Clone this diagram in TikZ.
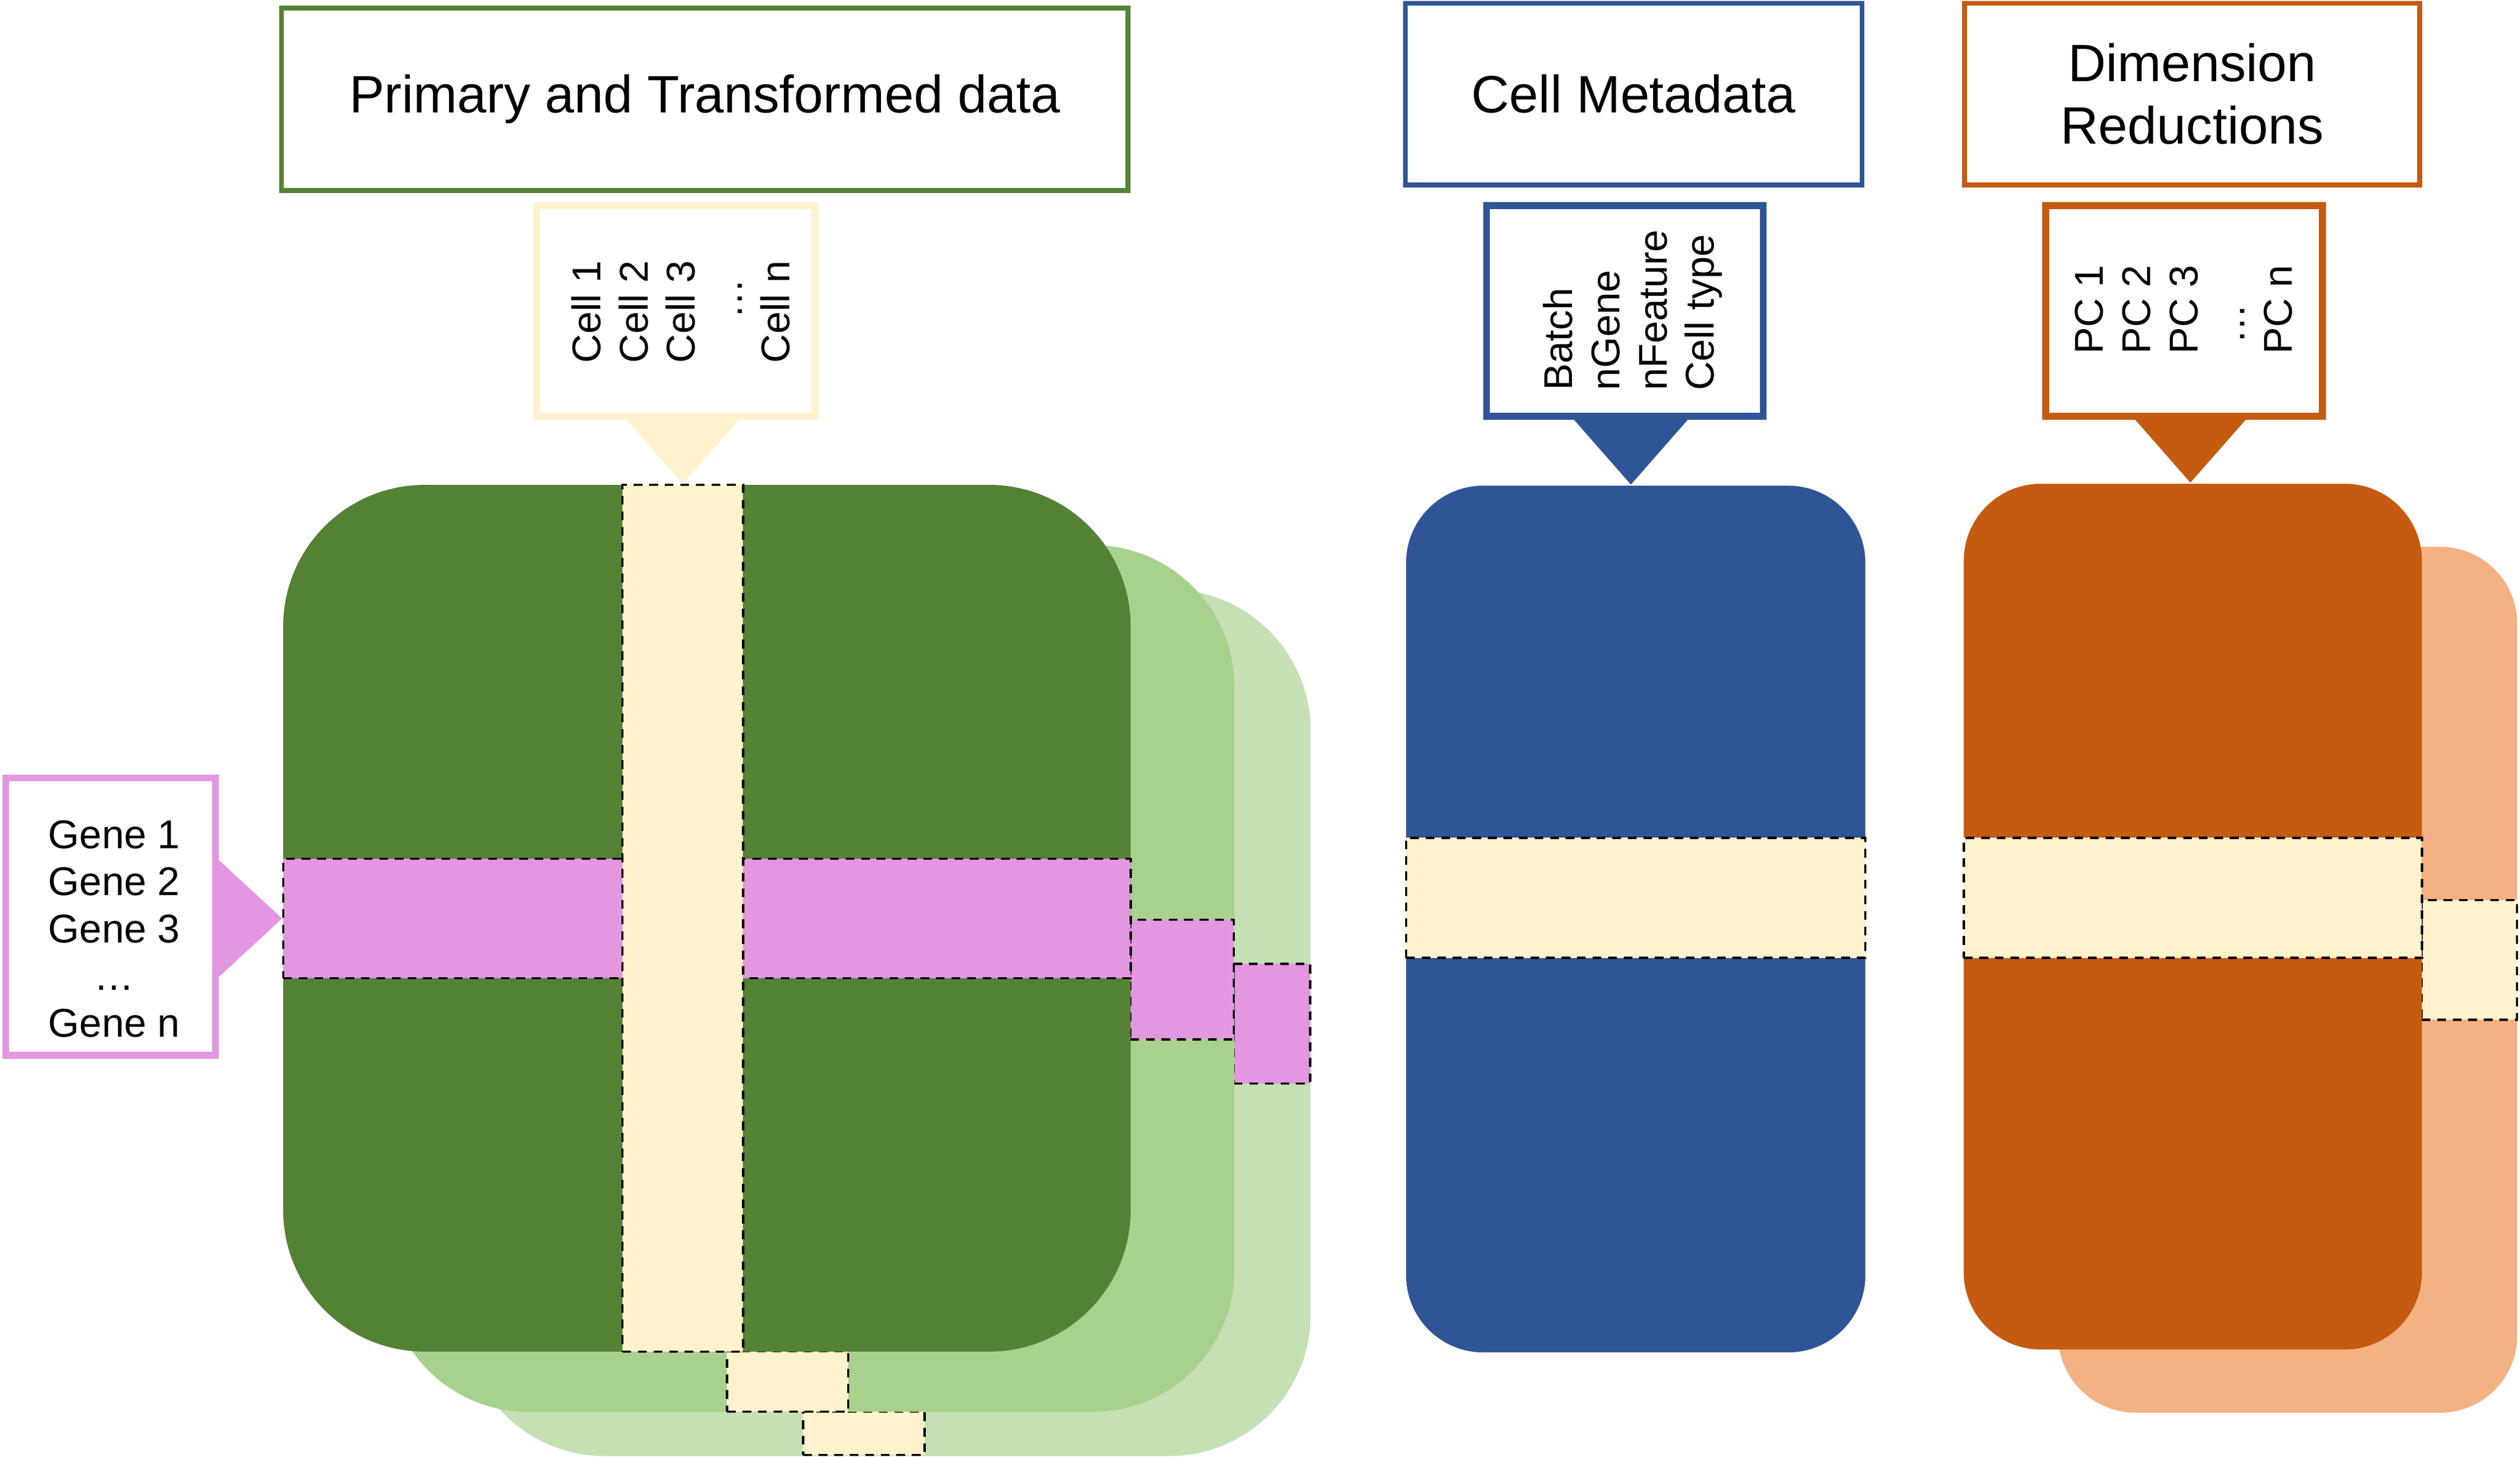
\documentclass[tikz,border=0pt]{standalone}
\usepackage{fontspec}
\setmainfont{Liberation Sans}
\usepackage{tikz}

\definecolor{dgreen}{HTML}{548235}
\definecolor{mgreen}{HTML}{A9D18E}
\definecolor{lgreen}{HTML}{C5E0B4}
\definecolor{cellyl}{HTML}{FFF2CC}
\definecolor{genepk}{HTML}{E397E1}
\definecolor{mblue}{HTML}{2F5597}
\definecolor{dorange}{HTML}{C55A11}
\definecolor{lorange}{HTML}{F4B183}

\begin{document}
\begin{tikzpicture}[x=0.01cm, y=-0.01cm]
    \tikzstyle{titlebox}=[rectangle, draw, line width=0.85pt, fill=white, minimum width=5.265cm, minimum height=1.135cm, align=center, font=\fontsize{9.3}{11.04}\selectfont, inner sep=0pt]
    \tikzstyle{callbox}=[rectangle, draw, line width=1.2pt, fill=white, inner sep=0pt]
    \tikzstyle{blob}=[rectangle, inner sep=0pt, anchor=north west]
    \tikzstyle{strip}=[rectangle, draw=black, line width=0.4pt, dash pattern=on 1.55pt off 1.2pt, fill=cellyl, inner sep=0pt, anchor=north west]
    \tikzstyle{vtext}=[font=\fontsize{7.1}{8.35}\selectfont, inner sep=0pt, align=left, rotate=90]

    \useasboundingbox (0,0) rectangle (1568,906.3);

    % green stack, back to front
    \node[blob, fill=lgreen, rounded corners=0.88cm, minimum width=5.27cm, minimum height=5.39cm] (gm3) at (287.5,366) {};
    \node[strip, fill=genepk, minimum width=0.475cm, minimum height=0.745cm] (gs3) at (767,599) {};
    \node[strip, minimum width=0.756cm, minimum height=0.27cm] (cs3) at (499,877.6) {};

    \node[blob, fill=mgreen, rounded corners=0.88cm, minimum width=5.27cm, minimum height=5.39cm] (gm2) at (240,338.5) {};
    \node[strip, fill=genepk, minimum width=0.644cm, minimum height=0.744cm] (gs2) at (702.6,571.6) {};
    \node[strip, minimum width=0.754cm, minimum height=0.376cm] (cs2) at (451.6,840) {};

    \node[blob, fill=dgreen, rounded corners=0.88cm, minimum width=5.27cm, minimum height=5.39cm] (gm) at (175.5,301) {};
    \node[strip, fill=genepk, minimum width=5.27cm, minimum height=0.744cm] (gstrip) at (175.5,533.6) {};
    \node[strip, minimum width=0.75cm, minimum height=5.39cm] (cstrip) at (386.6,301) {};

    % blue block
    \node[blob, fill=mblue, rounded corners=0.48cm, minimum width=2.856cm, minimum height=5.39cm] (bm) at (874.2,301.5) {};
    \node[strip, minimum width=2.856cm, minimum height=0.747cm] (bstrip) at (874.2,520.6) {};

    % orange stack
    \node[blob, fill=lorange, rounded corners=0.48cm, minimum width=2.854cm, minimum height=5.385cm] (om2) at (1280,339.5) {};
    \node[strip, minimum width=0.593cm, minimum height=0.744cm] (os2) at (1506.1,559.4) {};
    \node[blob, fill=dorange, rounded corners=0.48cm, minimum width=2.849cm, minimum height=5.384cm] (om) at (1221.2,300.3) {};
    \node[strip, minimum width=2.849cm, minimum height=0.747cm] (ostrip) at (1221.2,520.6) {};

    % titles
    \node[titlebox, draw=dgreen] (primary) at (438.5,61.75) {Primary and Transformed data};
    \node[titlebox, draw=mblue, minimum width=2.84cm, minimum height=1.13cm] (meta) at (1016.5,58.5) {Cell Metadata};
    \node[titlebox, draw=dorange, minimum width=2.83cm, minimum height=1.13cm] (dimred) at (1364,58.5) {Dimension\\Reductions};

    % callouts
    \node[callbox, draw=cellyl, minimum width=1.73cm, minimum height=1.31cm] (cellcall) at (420.5,193.5) {};
    \fill[cellyl] (cstrip.north) -- ++(-36,-41) -- ++(72,0) -- cycle;
    \node[vtext] (celltxt) at (423.5,194) {Cell 1\\Cell 2\\Cell 3\\\hspace*{7.8pt}…\\Cell n};

    \node[callbox, draw=genepk, minimum width=1.304cm, minimum height=1.725cm] (genecall) at (68.8,570.3) {};
    \fill[genepk] (gstrip.west) -- ++(-40,-37) -- ++(0,74) -- cycle;
    \node[font=\fontsize{7.1}{8.35}\selectfont, inner sep=0pt, align=center] (genetxt) at (71,578) {Gene 1\\Gene 2\\Gene 3\\…\\Gene n};

    \node[callbox, draw=mblue, minimum width=1.72cm, minimum height=1.31cm] (metacall) at (1011,193.5) {};
    \fill[mblue] ([xshift=-0.03cm]bm.north) -- ++(-36,-41) -- ++(72,0) -- cycle;
    \node[vtext] (metatxt) at (1016,193) {Batch\\nGene\\nFeature\\Cell type};

    \node[callbox, draw=dorange, minimum width=1.72cm, minimum height=1.31cm] (pccall) at (1359,193.5) {};
    \fill[dorange] ([xshift=-0.015cm]om.north) -- ++(-36,-41) -- ++(72,0) -- cycle;
    \node[vtext] (pctxt) at (1358.7,192.6) {PC 1\\PC 2\\PC 3\\\hspace*{1.8pt}…\\PC n};
\end{tikzpicture}
\end{document}
